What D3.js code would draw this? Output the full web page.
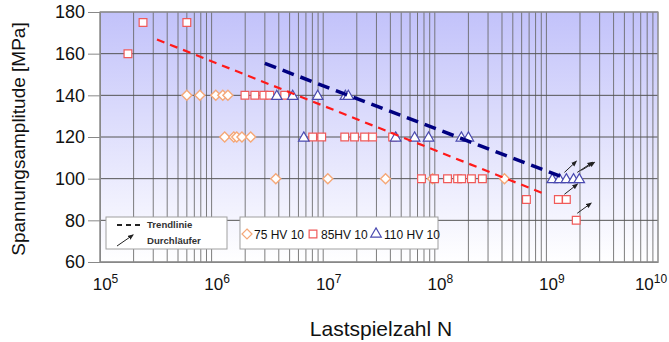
<!DOCTYPE html>
<html><head><meta charset="utf-8">
<script src="https://cdn.jsdelivr.net/npm/d3@7"></script>
<style>
html,body{margin:0;padding:0;background:#fff;}
svg{display:block;font-family:"Liberation Sans",Arial,sans-serif;}
</style></head><body>
<svg id="chart" width="669" height="342"></svg>
<script>
// ---- data ----
const yTicks = [60, 80, 100, 120, 140, 160, 180];
const xDecades = [5, 6, 7, 8, 9, 10];
const seriesNames = ["75 HV 10", "85HV 10", "110 HV 10"];

const hv75 = [
  [6.0e5,140],[7.85e5,140],[1.09e6,140],[1.26e6,140],[1.40e6,140],
  [1.31e6,120],[1.58e6,120],[1.68e6,120],[1.87e6,120],[2.24e6,120],
  [3.76e6,100],[1.10e7,100],[3.62e7,100],[9.55e7,100],[4.21e8,100]
];
const hv85 = [
  [1.78e5,160],[2.43e5,175],[6.0e5,175],
  [1.99e6,140],[2.44e6,140],[2.94e6,140],[3.32e6,140],[4.52e6,140],
  [8.05e6,120],[9.7e6,120],[1.56e7,120],[1.91e7,120],[2.35e7,120],[2.77e7,120],[4.19e7,120],
  [7.6e7,100],[9.95e7,100],[1.30e8,100],[1.60e8,100],[1.74e8,100],[2.13e8,100],[2.67e8,100],
  [6.62e8,90],[1.28e9,90],[1.51e9,90],
  [1.85e9,80]
];
const hv110 = [
  [3.84e6,140],[5.33e6,140],[8.93e6,140],[1.58e7,140],[1.68e7,140],
  [6.70e6,120],[4.46e7,120],[6.59e7,120],[8.79e7,120],[1.73e8,120],[2.0e8,120],
  [1.13e9,100],[1.31e9,100],[1.51e9,100],[1.75e9,100],[1.97e9,100]
];
const trend85 = [[3.24e5,166.8],[9.4e8,92.9]];
const trend110 = [[3.0e6,155.3],[1.42e9,100.6]];
const runouts = [
  [[1.45e9,103.0],[1.85e9,108.3]],
  [[1.89e9,103.0],[2.58e9,107.8]],
  [[2.06e9,104.0],[2.69e9,107.8]],
  [[1.45e9,92.5],[1.89e9,97.3]],
  [[1.89e9,83.4],[2.51e9,88.2]]
];

// ---- chart ----
const svg = d3.select("#chart");
const x = d3.scaleLog().domain([1e5,1e10]).range([100,658]);
const y = d3.scaleLinear().domain([60,180]).range([262,12]);

const defs = svg.append("defs");
const grad = defs.append("linearGradient").attr("id","bg").attr("x1",0).attr("y1",0).attr("x2",0).attr("y2",1);
grad.append("stop").attr("offset","0%").attr("stop-color","#c2c2fa");
grad.append("stop").attr("offset","100%").attr("stop-color","#ffffff");
defs.append("marker").attr("id","arr").attr("viewBox","0 0 10 10").attr("refX",8).attr("refY",5)
  .attr("markerWidth",6).attr("markerHeight",6).attr("orient","auto")
  .append("path").attr("d","M0,1 L10,5 L0,9 Z").attr("fill","#222");

svg.append("rect").attr("x",x(1e5)).attr("y",y(180)).attr("width",x(1e10)-x(1e5)).attr("height",y(60)-y(180)).attr("fill","url(#bg)");

// vertical grid
const vgrid = [];
xDecades.forEach(d => { for (let k=1;k<=9;k++){ const v=k*Math.pow(10,d); if (v<=1e10) vgrid.push(v);} });
svg.append("g").selectAll("line").data(vgrid).join("line")
  .attr("x1",d=>x(d)).attr("x2",d=>x(d)).attr("y1",y(180)).attr("y2",y(60))
  .attr("stroke","#666").attr("stroke-width",1).attr("stroke-opacity",0.85);

// horizontal grid
svg.append("g").selectAll("line").data(yTicks).join("line")
  .attr("x1",x(1e5)).attr("x2",x(1e10)).attr("y1",d=>y(d)).attr("y2",d=>y(d))
  .attr("stroke","#555").attr("stroke-width",1);

// border
svg.append("rect").attr("x",x(1e5)).attr("y",y(180)).attr("width",x(1e10)-x(1e5)).attr("height",y(60)-y(180))
  .attr("fill","none").attr("stroke","#999").attr("stroke-width",1.2);

// y axis
const yAxis = svg.append("g").attr("transform",`translate(${x(1e5)},0)`)
  .call(d3.axisLeft(y).tickValues(yTicks).tickSize(12).tickPadding(3).tickFormat(d3.format("d")));
yAxis.select(".domain").attr("stroke","#888");
yAxis.selectAll(".tick line").attr("stroke","#888");
yAxis.selectAll("text").attr("font-size",18).attr("fill","#111").attr("font-family","Liberation Sans, Arial, sans-serif");

// x axis
const xAxis = svg.append("g").attr("transform",`translate(0,${y(60)})`)
  .call(d3.axisBottom(x).tickValues(xDecades.map(d=>Math.pow(10,d))).tickSize(0).tickPadding(16).tickFormat(""));
xAxis.select(".domain").attr("stroke","#888");
xAxis.selectAll(".tick text").each(function(d){
  const t = d3.select(this).attr("font-size",17).attr("fill","#111")
    .attr("font-family","Liberation Sans, Arial, sans-serif").attr("text-anchor","middle");
  t.append("tspan").text("10");
  t.append("tspan").attr("dy",-7).attr("font-size",12).text(Math.round(Math.log10(d)));
  // keep inside the picture
  const bb = this.getBBox();
  const tickX = x(d);
  let shift = 5;
  if (tickX + bb.x + bb.width + shift > 667) shift = 667 - (tickX + bb.x + bb.width);
  t.attr("x", shift);
});

// markers
const diamond = {draw(ctx){ const r=5; ctx.moveTo(0,-r); ctx.lineTo(r,0); ctx.lineTo(0,r); ctx.lineTo(-r,0); ctx.closePath(); }};
const diamondSym = d3.symbol().type(diamond);
const square = d3.symbol().type(d3.symbolSquare).size(60);
const tri = d3.symbol().type(d3.symbolTriangle).size(48);

svg.append("g").selectAll("path").data(hv75).join("path")
  .attr("d",diamondSym).attr("transform",d=>`translate(${x(d[0])},${y(d[1])})`)
  .attr("fill","#fff").attr("stroke","#f5a878").attr("stroke-width",1.4);
svg.append("g").selectAll("path").data(hv85).join("path")
  .attr("d",square).attr("transform",d=>`translate(${x(d[0])},${y(d[1])})`)
  .attr("fill","#fff").attr("stroke","#f05a5a").attr("stroke-width",1.2);
svg.append("g").selectAll("path").data(hv110).join("path")
  .attr("d",tri).attr("transform",d=>`translate(${x(d[0])},${y(d[1])+1})`)
  .attr("fill","#fff").attr("stroke","#4a4ab0").attr("stroke-width",1.2);

// trend lines
const line = d3.line().x(d=>x(d[0])).y(d=>y(d[1]));
svg.append("path").datum(trend85).attr("d",line).attr("fill","none")
  .attr("stroke","#ff1a1a").attr("stroke-width",2.2).attr("stroke-dasharray","8,6");
svg.append("path").datum(trend110).attr("d",line).attr("fill","none")
  .attr("stroke","#000080").attr("stroke-width",3.5).attr("stroke-dasharray","12,7");

// runout arrows
svg.append("g").selectAll("line").data(runouts).join("line")
  .attr("x1",d=>x(d[0][0])).attr("y1",d=>y(d[0][1])).attr("x2",d=>x(d[1][0])).attr("y2",d=>y(d[1][1]))
  .attr("stroke","#222").attr("stroke-width",1).attr("marker-end","url(#arr)");

// legend 1
const l1 = svg.append("g");
l1.append("rect").attr("x",106).attr("y",217).attr("width",121).attr("height",32)
  .attr("fill","#fff").attr("stroke","#a0a0a0");
l1.append("line").attr("x1",117).attr("x2",142).attr("y1",225).attr("y2",225)
  .attr("stroke","#222").attr("stroke-width",1.8).attr("stroke-dasharray","5,4");
l1.append("line").attr("x1",117).attr("y1",246).attr("x2",133).attr("y2",235)
  .attr("stroke","#222").attr("stroke-width",1).attr("marker-end","url(#arr)");
l1.append("text").attr("x",147).attr("y",228).attr("font-size",9.6).attr("font-weight","bold").attr("fill","#333").text("Trendlinie");
l1.append("text").attr("x",147).attr("y",244).attr("font-size",9.6).attr("font-weight","bold").attr("fill","#333").text("Durchläufer");

// legend 2
const l2 = svg.append("g");
l2.append("rect").attr("x",240).attr("y",217).attr("width",198).attr("height",32)
  .attr("fill","#fff").attr("stroke","#a0a0a0");
const legItems = [
  {sym: diamondSym, stroke:"#f5a878", sx:247, tx:254},
  {sym: square, stroke:"#f05a5a", sx:313, tx:321},
  {sym: tri, stroke:"#4a4ab0", sx:376, tx:384}
];
legItems.forEach((it,i) => {
  l2.append("path").attr("d",it.sym).attr("transform",`translate(${it.sx},234)`)
    .attr("fill","#fff").attr("stroke",it.stroke).attr("stroke-width",1.2);
  l2.append("text").attr("x",it.tx).attr("y",238.5).attr("font-size",12).attr("fill","#111").text(seriesNames[i]);
});

// titles
svg.append("text").attr("transform","translate(25,139) rotate(-90)").attr("text-anchor","middle")
  .attr("font-size",19).attr("fill","#111").text("Spannungsamplitude [MPa]");
svg.append("text").attr("x",381).attr("y",336).attr("text-anchor","middle")
  .attr("font-size",21).attr("fill","#111").text("Lastspielzahl N");
</script></body></html>
